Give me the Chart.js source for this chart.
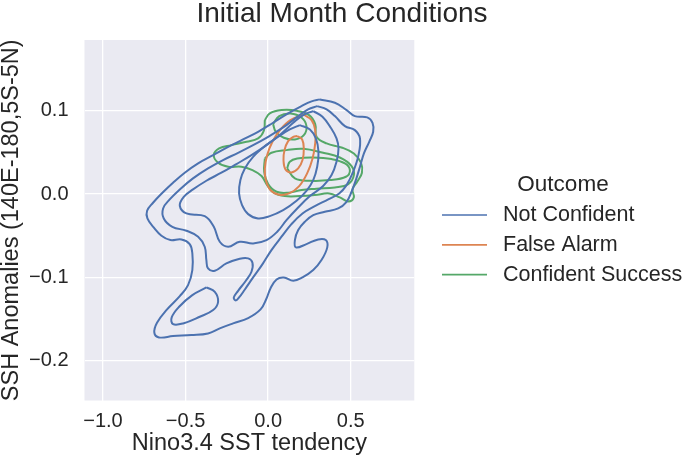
<!DOCTYPE html>
<html lang="en">
<head>
  <meta charset="UTF-8">
  <title>Initial Month Conditions</title>
  <script src="https://cdn.jsdelivr.net/npm/chart.js"></script>
  <style>
    html, body { margin: 0; padding: 0; background: #fff; }
    #wrap { width: 685px; height: 461px; }
  </style>
</head>
<body>
  <div id="wrap"><canvas id="kdeChart" width="685" height="461"></canvas></div>
  <script>
    // Outcome categories and tick values
    const outcomes = ['Not Confident', 'False Alarm', 'Confident Success'];
    const xTicks = [-1.0, -0.5, 0.0, 0.5];
    const yTicks = [-0.2, -0.1, 0.0, 0.1];

    // KDE contour lines, [Nino3.4 SST tendency, SSH anomaly]
    const notConfident1 = [[0.313,0.1135],[0.404,0.1095],[0.475,0.1007],[0.525,0.0935],[0.600,0.0919],[0.632,0.0855],[0.636,0.0747],[0.612,0.0627],[0.580,0.0487],[0.556,0.0328],[0.531,0.0168],[0.505,0.0028],[0.475,-0.0092],[0.424,-0.0172],[0.343,-0.0212],[0.273,-0.0252],[0.222,-0.0332],[0.182,-0.0431],[0.162,-0.0551],[0.168,-0.0639],[0.232,-0.0599],[0.303,-0.0543],[0.349,-0.0551],[0.358,-0.0639],[0.323,-0.0791],[0.273,-0.0911],[0.208,-0.0999],[0.152,-0.1039],[0.095,-0.0999],[0.051,-0.1023],[0.014,-0.1131],[-0.010,-0.1251],[-0.046,-0.1382],[-0.121,-0.1486],[-0.212,-0.1550],[-0.293,-0.1610],[-0.364,-0.1670],[-0.465,-0.1690],[-0.576,-0.1702],[-0.661,-0.1718],[-0.689,-0.1662],[-0.673,-0.1542],[-0.612,-0.1382],[-0.535,-0.1223],[-0.485,-0.1091],[-0.459,-0.0911],[-0.459,-0.0711],[-0.475,-0.0599],[-0.525,-0.0543],[-0.592,-0.0551],[-0.646,-0.0499],[-0.693,-0.0400],[-0.731,-0.0292],[-0.733,-0.0200],[-0.697,-0.0104],[-0.640,0.0016],[-0.576,0.0136],[-0.505,0.0256],[-0.424,0.0368],[-0.333,0.0467],[-0.242,0.0567],[-0.152,0.0655],[-0.061,0.0747],[0.030,0.0855],[0.121,0.0967],[0.202,0.1055],[0.263,0.1111]];
    const notConfident2 = [[0.297,0.1055],[0.354,0.1015],[0.404,0.0935],[0.465,0.0815],[0.525,0.0767],[0.556,0.0667],[0.547,0.0467],[0.515,0.0268],[0.475,0.0108],[0.430,0.0008],[0.364,-0.0064],[0.283,-0.0144],[0.208,-0.0232],[0.141,-0.0360],[0.081,-0.0511],[0.020,-0.0671],[-0.034,-0.0839],[-0.091,-0.0999],[-0.141,-0.1143],[-0.176,-0.1239],[-0.196,-0.1274],[-0.208,-0.1239],[-0.182,-0.1159],[-0.135,-0.1039],[-0.101,-0.0931],[-0.095,-0.0823],[-0.121,-0.0771],[-0.172,-0.0775],[-0.253,-0.0831],[-0.323,-0.0919],[-0.364,-0.0891],[-0.374,-0.0791],[-0.384,-0.0631],[-0.424,-0.0511],[-0.495,-0.0439],[-0.580,-0.0392],[-0.632,-0.0292],[-0.636,-0.0172],[-0.596,-0.0064],[-0.535,0.0056],[-0.455,0.0188],[-0.364,0.0308],[-0.273,0.0408],[-0.182,0.0495],[-0.091,0.0587],[0.000,0.0687],[0.091,0.0799],[0.172,0.0919],[0.242,0.1015]];
    const notConfident3 = [[0.273,0.0995],[0.329,0.0927],[0.378,0.0799],[0.414,0.0667],[0.426,0.0547],[0.414,0.0388],[0.384,0.0228],[0.333,0.0096],[0.253,-0.0024],[0.176,-0.0172],[0.111,-0.0312],[0.055,-0.0451],[-0.010,-0.0551],[-0.091,-0.0591],[-0.172,-0.0571],[-0.242,-0.0631],[-0.293,-0.0571],[-0.329,-0.0392],[-0.384,-0.0264],[-0.495,-0.0232],[-0.535,-0.0140],[-0.511,-0.0032],[-0.455,0.0056],[-0.374,0.0160],[-0.283,0.0256],[-0.192,0.0360],[-0.101,0.0467],[-0.010,0.0587],[0.081,0.0727],[0.152,0.0855],[0.212,0.0947]];
    const notConfident4 = [[0.192,0.0827],[0.253,0.0775],[0.289,0.0667],[0.305,0.0507],[0.297,0.0328],[0.273,0.0168],[0.232,0.0040],[0.172,-0.0080],[0.091,-0.0192],[0.010,-0.0264],[-0.061,-0.0292],[-0.121,-0.0240],[-0.158,-0.0132],[-0.176,0.0008],[-0.168,0.0168],[-0.141,0.0308],[-0.091,0.0447],[-0.020,0.0575],[0.061,0.0687],[0.131,0.0775]];
    const notConfident5 = [[-0.374,-0.1119],[-0.323,-0.1171],[-0.303,-0.1290],[-0.333,-0.1390],[-0.414,-0.1470],[-0.515,-0.1550],[-0.576,-0.1558],[-0.584,-0.1478],[-0.539,-0.1350],[-0.459,-0.1211]];
    const falseAlarm1 = [[0.216,0.0951],[0.263,0.0887],[0.285,0.0767],[0.285,0.0607],[0.269,0.0427],[0.236,0.0248],[0.188,0.0096],[0.127,0.0008],[0.067,-0.0008],[0.014,0.0048],[-0.014,0.0168],[-0.020,0.0308],[-0.006,0.0467],[0.026,0.0627],[0.075,0.0775],[0.135,0.0887]];
    const falseAlarm2 = [[0.176,0.0695],[0.206,0.0655],[0.216,0.0547],[0.208,0.0408],[0.182,0.0308],[0.141,0.0260],[0.105,0.0296],[0.093,0.0408],[0.099,0.0527],[0.121,0.0635],[0.152,0.0687]];
    const success1 = [[-0.020,0.0887],[0.010,0.0967],[0.081,0.1007],[0.172,0.0999],[0.248,0.0947],[0.285,0.0839],[0.293,0.0687],[0.354,0.0607],[0.444,0.0559],[0.519,0.0487],[0.562,0.0376],[0.568,0.0256],[0.539,0.0148],[0.511,0.0056],[0.519,-0.0040],[0.487,-0.0088],[0.434,-0.0040],[0.370,0.0008],[0.283,-0.0012],[0.192,-0.0024],[0.101,-0.0024],[0.034,0.0016],[-0.006,0.0108],[-0.040,0.0216],[-0.095,0.0288],[-0.162,0.0328],[-0.242,0.0328],[-0.303,0.0376],[-0.329,0.0467],[-0.297,0.0547],[-0.222,0.0587],[-0.131,0.0627],[-0.061,0.0667],[-0.026,0.0759]];
    const success2 = [[0.030,0.0839],[0.067,0.0935],[0.135,0.0967],[0.202,0.0919],[0.232,0.0815],[0.216,0.0707],[0.162,0.0655],[0.095,0.0675],[0.046,0.0747]];
    const success3 = [[-0.020,0.0427],[0.020,0.0495],[0.111,0.0527],[0.212,0.0543],[0.333,0.0495],[0.434,0.0439],[0.505,0.0336],[0.519,0.0228],[0.485,0.0120],[0.404,0.0080],[0.293,0.0064],[0.202,0.0048],[0.121,0.0016],[0.051,0.0028],[0.000,0.0120],[-0.024,0.0268]];
    const success4 = [[0.115,0.0308],[0.131,0.0388],[0.176,0.0427],[0.273,0.0439],[0.384,0.0420],[0.465,0.0368],[0.495,0.0288],[0.471,0.0208],[0.374,0.0168],[0.253,0.0160],[0.162,0.0188]];

    const outcomeColors = ['#4c72b0', '#dd8452', '#55a868'];

    // contour line -> outcome index
    const contours = [
      [notConfident1, 0], [notConfident2, 0], [notConfident3, 0], [notConfident4, 0], [notConfident5, 0],
      [falseAlarm1, 1], [falseAlarm2, 1],
      [success1, 2], [success2, 2], [success3, 2], [success4, 2]
    ];

    const FONT = '"Liberation Sans", Arial, sans-serif';

    // Grey panel, figure title and the outcome legend
    const decor = {
      id: 'decor',
      beforeDraw(chart) {
        const {ctx, chartArea: a} = chart;
        ctx.save();
        ctx.fillStyle = '#eaeaf2';
        ctx.fillRect(a.left, a.top, a.right - a.left, a.bottom - a.top);
        ctx.restore();
      },
      afterDraw(chart) {
        const ctx = chart.ctx;
        ctx.save();
        ctx.fillStyle = '#262626';
        ctx.textBaseline = 'middle';
        ctx.textAlign = 'center';
        ctx.font = '28px ' + FONT;
        ctx.fillText('Initial Month Conditions', 342, 14);

        ctx.font = '22.5px ' + FONT;
        ctx.fillText('Outcome', 563, 185);

        ctx.textAlign = 'left';
        ctx.font = '21.5px ' + FONT;
        outcomes.forEach((name, i) => {
          const y = 215 + i * 29.8;
          ctx.strokeStyle = outcomeColors[i];
          ctx.lineWidth = 1.7;
          ctx.beginPath();
          ctx.moveTo(442, y);
          ctx.lineTo(487, y);
          ctx.stroke();
          ctx.fillText(name, 503, y);
        });
        ctx.restore();
      }
    };

    const fmt = v => (v < 0 ? '\u2212' : '') + Math.abs(v).toFixed(1);

    new Chart(document.getElementById('kdeChart'), {
      type: 'scatter',
      data: {
        datasets: contours.map(([pts, k]) => ({
          label: outcomes[k],
          data: pts.concat([pts[0]]).map(p => ({x: p[0], y: p[1]})),
          showLine: true,
          borderColor: outcomeColors[k],
          borderWidth: 2,
          pointRadius: 0,
          tension: 0.4,
          fill: false
        }))
      },
      options: {
        responsive: false,
        animation: false,
        layout: { padding: { left: 0, top: 40, right: 270.7, bottom: 0 } },
        plugins: {
          legend: { display: false },
          title: { display: false },
          tooltip: { enabled: false }
        },
        scales: {
          x: {
            type: 'linear',
            min: -1.112,
            max: 0.885,
            afterBuildTicks: s => { s.ticks = xTicks.map(v => ({value: v})); },
            afterFit: s => { s.height = 60.5; },
            grid: { color: '#ffffff', lineWidth: 1.3, drawTicks: false },
            border: { display: false },
            ticks: { color: '#262626', font: { family: FONT, size: 20 }, padding: 9, callback: fmt },
            title: {
              display: true,
              text: 'Nino3.4 SST tendency',
              color: '#262626',
              font: { family: FONT, size: 23.5, lineHeight: 1 },
              padding: { top: 0, bottom: 6 }
            }
          },
          y: {
            type: 'linear',
            min: -0.2474,
            max: 0.1847,
            afterBuildTicks: s => { s.ticks = yTicks.map(v => ({value: v})); },
            afterFit: s => { s.width = 84.5; },
            grid: { color: '#ffffff', lineWidth: 1.3, drawTicks: false },
            border: { display: false },
            ticks: { color: '#262626', font: { family: FONT, size: 20 }, padding: 16, callback: fmt },
            title: {
              display: true,
              text: 'SSH Anomalies (140E-180,5S-5N)',
              color: '#262626',
              font: { family: FONT, size: 23.5, lineHeight: 1 },
              padding: { top: 0, bottom: 0 }
            }
          }
        }
      },
      plugins: [decor]
    });
  </script>
</body>
</html>
